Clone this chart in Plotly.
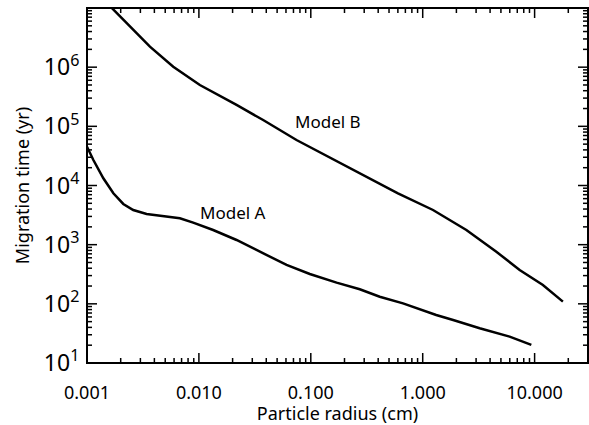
import math
import plotly.graph_objects as go

# Particle radius (cm) and migration time (yr) for the two disc models
radius_a = [0.001, 0.00114, 0.0014, 0.00172, 0.00211, 0.00259, 0.00341, 0.0048,
            0.00676, 0.00889, 0.0134, 0.0217, 0.0305, 0.0607, 0.098, 0.17,
            0.274, 0.413, 0.667, 1.32, 1.87, 3.23, 5.98, 9.35]
time_a = [45300, 27000, 13240, 7380, 4875, 3855, 3304, 3055,
          2793, 2355, 1770, 1200, 869, 454, 319, 228,
          176, 132, 102, 64.9, 53.3, 38.6, 27.9, 20.2]

radius_b = [0.00142, 0.00211, 0.00278, 0.00365, 0.0059, 0.0102, 0.0217, 0.0375,
            0.0745, 0.148, 0.293, 0.601, 1.236, 2.455, 4.55, 7.35, 11.86, 17.9]
time_b = [1.36e7, 6.27e6, 3.73e6, 2.22e6, 1.02e6, 5.0e5, 2.30e5, 1.28e5,
          5.87e4, 3.0e4, 1.51e4, 7380, 3855, 1770, 760, 373, 208, 109]

x_ticks = [0.001, 0.01, 0.1, 1.0, 10.0]
x_tick_text = ["0.001", "0.010", "0.100", "1.000", "10.000"]
y_exponents = [1, 2, 3, 4, 5, 6, 7]

# Curve labels: (text, radius, time)
labels = [("Model A", 0.0201, 3565), ("Model B", 0.142, 1.23e5)]

FONT = "Noto Sans"
X_RANGE = [-3, math.log10(30)]
Y_RANGE = [1, 7]
MAJOR_LEN, MINOR_LEN = 10, 5

y_ticks = [10.0 ** e for e in y_exponents]
x_minor = [m * 10.0 ** e for e in range(-3, 2) for m in range(2, 10)]
y_minor = [m * 10.0 ** e for e in range(1, 7) for m in range(2, 10)]

fig = go.Figure()
for xs, ys in ((radius_a, time_a), (radius_b, time_b)):
    fig.add_trace(go.Scatter(x=xs, y=ys, mode="lines",
                             line=dict(color="black", width=2.5),
                             showlegend=False))

for text, xv, yv in labels:
    fig.add_annotation(x=math.log10(xv), y=math.log10(yv), text=text,
                       showarrow=False, font=dict(family=FONT, size=17, color="black"))

# plot frame
fig.add_shape(type="rect", xref="paper", yref="paper", x0=0, x1=1, y0=0, y1=1,
              line=dict(color="black", width=2), layer="above")

# inward tick marks on all four sides (IDL style box)
tick_line = dict(color="black", width=1.5)
for vals, length in ((x_ticks, MAJOR_LEN), (x_minor, MINOR_LEN)):
    for v in vals:
        for anchor, sign in ((0, 1), (1, -1)):
            fig.add_shape(type="line", xref="x", yref="paper",
                          x0=v, x1=v, ysizemode="pixel", yanchor=anchor,
                          y0=0, y1=sign * length, line=tick_line, layer="above")
for vals, length in ((y_ticks, MAJOR_LEN), (y_minor, MINOR_LEN)):
    for v in vals:
        for anchor, sign in ((0, 1), (1, -1)):
            fig.add_shape(type="line", xref="paper", yref="y",
                          y0=v, y1=v, xsizemode="pixel", xanchor=anchor,
                          x0=0, x1=sign * length, line=tick_line, layer="above")

# transparent outside ticks only set the gap between axis and tick labels
fig.update_layout(
    width=589, height=425,
    margin=dict(l=87, r=1, t=8, b=62),
    paper_bgcolor="white", plot_bgcolor="white",
    xaxis=dict(
        type="log", range=X_RANGE, showline=False, showgrid=False, zeroline=False,
        tickmode="array", tickvals=x_ticks, ticktext=x_tick_text,
        ticks="outside", ticklen=13, tickcolor="rgba(0,0,0,0)",
        tickfont=dict(family=FONT, size=18, color="black"),
        title=dict(text="Particle radius (cm)", standoff=0,
                   font=dict(family=FONT, size=18, color="black")),
    ),
    yaxis=dict(
        type="log", range=Y_RANGE, showline=False, showgrid=False, zeroline=False,
        tickmode="array", tickvals=y_ticks,
        ticktext=[f"10<sup>{e}</sup>" for e in y_exponents],
        ticks="outside", ticklen=2, tickcolor="rgba(0,0,0,0)",
        tickfont=dict(family=FONT, size=23, color="black"),
        title=dict(text="Migration time (yr)", standoff=9,
                   font=dict(family=FONT, size=18, color="black")),
    ),
)

fig.write_html("out.html")
